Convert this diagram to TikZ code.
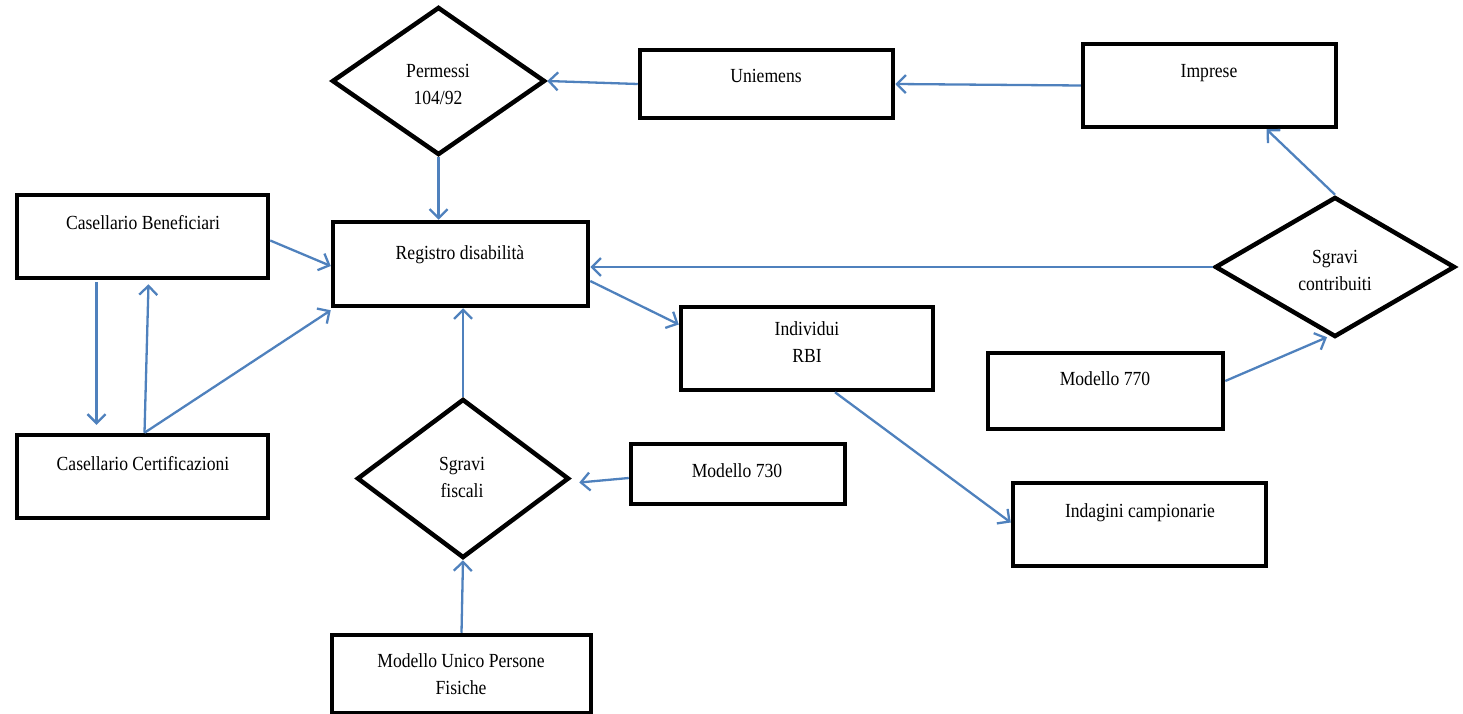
\documentclass[tikz,border=0pt]{standalone}
\usepackage{fontspec}
\setmainfont{Liberation Serif}[FakeStretch=0.88]
\usetikzlibrary{shapes.geometric,arrows.meta,calc}
\definecolor{arrowblue}{RGB}{79,129,189}
\begin{document}
\begin{tikzpicture}[x=1pt,y=-1pt,
  box/.style={draw=black,line width=4.5pt,rectangle,inner sep=0pt},
  dia/.style={draw=black,line width=4.5pt,diamond,inner sep=0pt},
  txt/.style={font=\fontsize{20}{27}\selectfont,align=center,inner sep=0pt,anchor=base},
  conn/.style={draw=arrowblue,line width=2.3pt,-{Straight Barb[length=9pt,width=18pt,line width=2.3pt]}}
]
\useasboundingbox (0,0) rectangle (1463,714);
% boxes
\node[box,minimum width=251pt,minimum height=83pt] (cb) at (142.5,236.5) {};
\node[box,minimum width=251pt,minimum height=83pt] (cc) at (142.5,476.5) {};
\node[box,minimum width=255pt,minimum height=84pt] (reg) at (460.5,264) {};
\node[dia,minimum width=213pt,minimum height=148pt] (perm) at (438.5,81) {};
\node[box,minimum width=253pt,minimum height=68pt] (uni) at (766.5,84) {};
\node[box,minimum width=253pt,minimum height=83pt] (imp) at (1209.5,85.5) {};
\node[dia,minimum width=240pt,minimum height=140pt] (sc) at (1335,267) {};
\node[dia,minimum width=212pt,minimum height=159pt] (sf) at (463,478.5) {};
\node[box,minimum width=214pt,minimum height=60pt] (m730) at (738,474) {};
\node[box,minimum width=259pt,minimum height=78pt] (mu) at (461.5,674) {};
\node[box,minimum width=252pt,minimum height=83pt] (ind) at (807,348.5) {};
\node[box,minimum width=235pt,minimum height=76pt] (m770) at (1105.5,391) {};
\node[box,minimum width=253pt,minimum height=83pt] (ig) at (1139.5,524.5) {};
% texts (anchor base = baseline of last line)
\node[txt] (tcb) at (143,229) {Casellario Beneficiari};
\node[txt] (tcc) at (143,470) {Casellario Certificazioni};
\node[txt] (treg) at (460,259) {Registro disabilità};
\node[txt] (tperm) at (438,105) {Permessi\\104/92};
\node[txt] (tuni) at (766,83) {Uniemens};
\node[txt] (timp) at (1209,78) {Imprese};
\node[txt] (tsc) at (1335,290) {Sgravi\\contribuiti};
\node[txt] (tind) at (807,362) {Individui\\RBI};
\node[txt] (tm770) at (1105,385) {Modello 770};
\node[txt] (tig) at (1140,517) {Indagini campionarie};
\node[txt] (tm730) at (737,477) {Modello 730};
\node[txt] (tsf) at (462,497) {Sgravi\\fiscali};
\node[txt] (tmu) at (461,694) {Modello Unico Persone\\Fisiche};
% connectors
\draw[conn] (uni.west) -- (perm.east);
\draw[conn] (imp.west) -- (uni.east);
\draw[conn] (perm.south) -- (perm.south |- reg.north);
\draw[conn] ($(cb.east)+(0,4)$) -- ($(reg.west)+(0,2)$);
\draw[conn] ($(cc.north)+(2,0)$) -- ($(reg.south west)+(0,2)$);
\draw[conn] ($(cb.south)+(-46,2)$) -- ($(cc.north)+(-46,-8)$);
\draw[conn] ($(cc.north)+(2,0)$) -- ($(cb.south)+(6,4)$);
\draw[conn] (sf.north) -- (sf.north |- reg.south);
\draw[conn] ($(m730.west)+(0,4)$) -- ($(sf.east)+(8,4)$);
\draw[conn] (mu.north) -- (sf.south);
\draw[conn] ($(reg.east)+(0,17)$) -- ($(ind.west)+(0,-24)$);
\draw[conn] (sc.west) -- (sc.west -| reg.east);
\draw[conn] ($(ind.south)+(28,0)$) -- ($(ig.west)+(0,-2)$);
\draw[conn] (sc.north) -- ($(imp.south)+(57,0)$);
\draw[conn] ($(m770.east)+(0,-10)$) -- ($(sc.south)+(-8,-2)$);
\end{tikzpicture}
\end{document}
